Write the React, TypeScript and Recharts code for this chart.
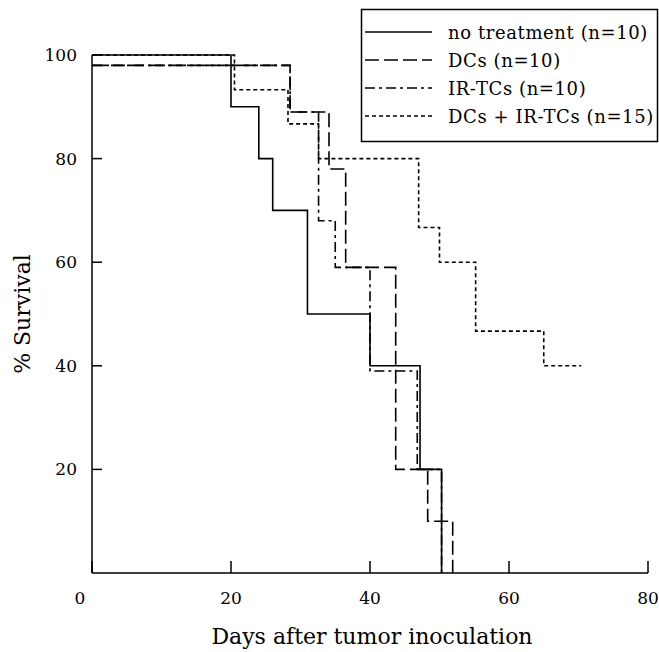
import React from 'react';
import { LineChart, Line, XAxis, YAxis } from 'recharts';

const FONT = '"DejaVu Serif", serif';

// Tick values
const xTicks = [0, 20, 40, 60, 80];
const yTicks = [20, 40, 60, 80, 100];

// Series (Kaplan-Meier steps): day of change and % survival after it
const noTreatmentDays = [0, 20, 24, 26, 31, 40, 47.2, 50.3];
const noTreatmentSurv = [100, 90, 80, 70, 50, 40, 20, 0];

const dcsDays = [0, 28.5, 34.1, 36.5, 43.7, 48.3, 51.9];
const dcsSurv = [98, 89, 78, 59, 20, 10, 0];

const irDays = [0, 28.5, 32.6, 35, 40, 46.8, 50.3];
const irSurv = [98, 89, 68, 59, 39, 20, 0];

const comboDays = [0, 20.5, 28.2, 32.6, 47, 50, 55.2, 65, 70.4];
const comboSurv = [100, 93.3, 86.7, 80, 66.7, 60, 46.7, 40, 40];

const seriesNames = ['no treatment (n=10)', 'DCs (n=10)', 'IR-TCs (n=10)', 'DCs + IR-TCs (n=15)'];
const seriesDash = ['', '14 5', '10 4 3 4', '4 3'];

const toPoints = (days: number[], surv: number[]) => days.map((d, i) => ({ day: d, surv: surv[i] }));

const seriesData = [
  toPoints(noTreatmentDays, noTreatmentSurv),
  toPoints(dcsDays, dcsSurv),
  toPoints(irDays, irSurv),
  toPoints(comboDays, comboSurv),
];

const XTick = (props: any) => {
  const { x, y, payload } = props;
  const v = payload.value;
  return (
    <text x={x + (v === 0 ? -12 : 0)} y={y} dy="0.71em" textAnchor="middle" fill="#000" fontSize={17} fontFamily={FONT}>
      {v}
    </text>
  );
};

export default function App() {
  return (
    <div style={{ position: 'absolute', left: 0, top: 0, width: 659, height: 652, background: '#fff' }}>
      <LineChart width={659} height={652} margin={{ top: 55, right: 11, bottom: 39, left: 32 }}>
        <XAxis
          type="number"
          dataKey="day"
          domain={[0, 80]}
          ticks={xTicks}
          interval={0}
          height={40}
          stroke="#000"
          strokeWidth={1.5}
          tickSize={-12}
          tickMargin={31}
          tick={<XTick />}
        />
        <YAxis
          type="number"
          dataKey="surv"
          domain={[0, 100]}
          ticks={yTicks}
          interval={0}
          width={60}
          stroke="#000"
          strokeWidth={1.5}
          tickSize={-10}
          tickMargin={25}
          tick={{ fill: '#000', fontSize: 17, fontFamily: FONT }}
        />
        {seriesData.map((d, i) => (
          <Line
            key={seriesNames[i]}
            data={d}
            dataKey="surv"
            name={seriesNames[i]}
            type="stepAfter"
            stroke="#000"
            strokeWidth={1.6}
            strokeDasharray={seriesDash[i] || undefined}
            dot={false}
            activeDot={false}
            isAnimationActive={false}
          />
        ))}
      </LineChart>
      <svg width={659} height={652} style={{ position: 'absolute', left: 0, top: 0, pointerEvents: 'none' }}>
        <rect x={361.5} y={9.5} width={296} height={132} fill="#fff" stroke="#000" strokeWidth={1.5} />
        {seriesNames.map((n, i) => {
          const yy = 32 + i * 28;
          return (
            <g key={n}>
              <line x1={365} x2={432} y1={yy} y2={yy} stroke="#000" strokeWidth={1.6} strokeDasharray={seriesDash[i] || undefined} />
              <text x={448} y={yy} dominantBaseline="central" fontSize={18} letterSpacing={0.6} fontFamily={FONT} fill="#000">{n}</text>
            </g>
          );
        })}
        <text x={372} y={636} textAnchor="middle" dominantBaseline="central" fontSize={22} fontFamily={FONT} fill="#000">
          Days after tumor inoculation
        </text>
        <text x={22} y={314} transform="rotate(-90 22 314)" textAnchor="middle" dominantBaseline="central" fontSize={22} fontFamily={FONT} fill="#000">
          % Survival
        </text>
      </svg>
    </div>
  );
}
